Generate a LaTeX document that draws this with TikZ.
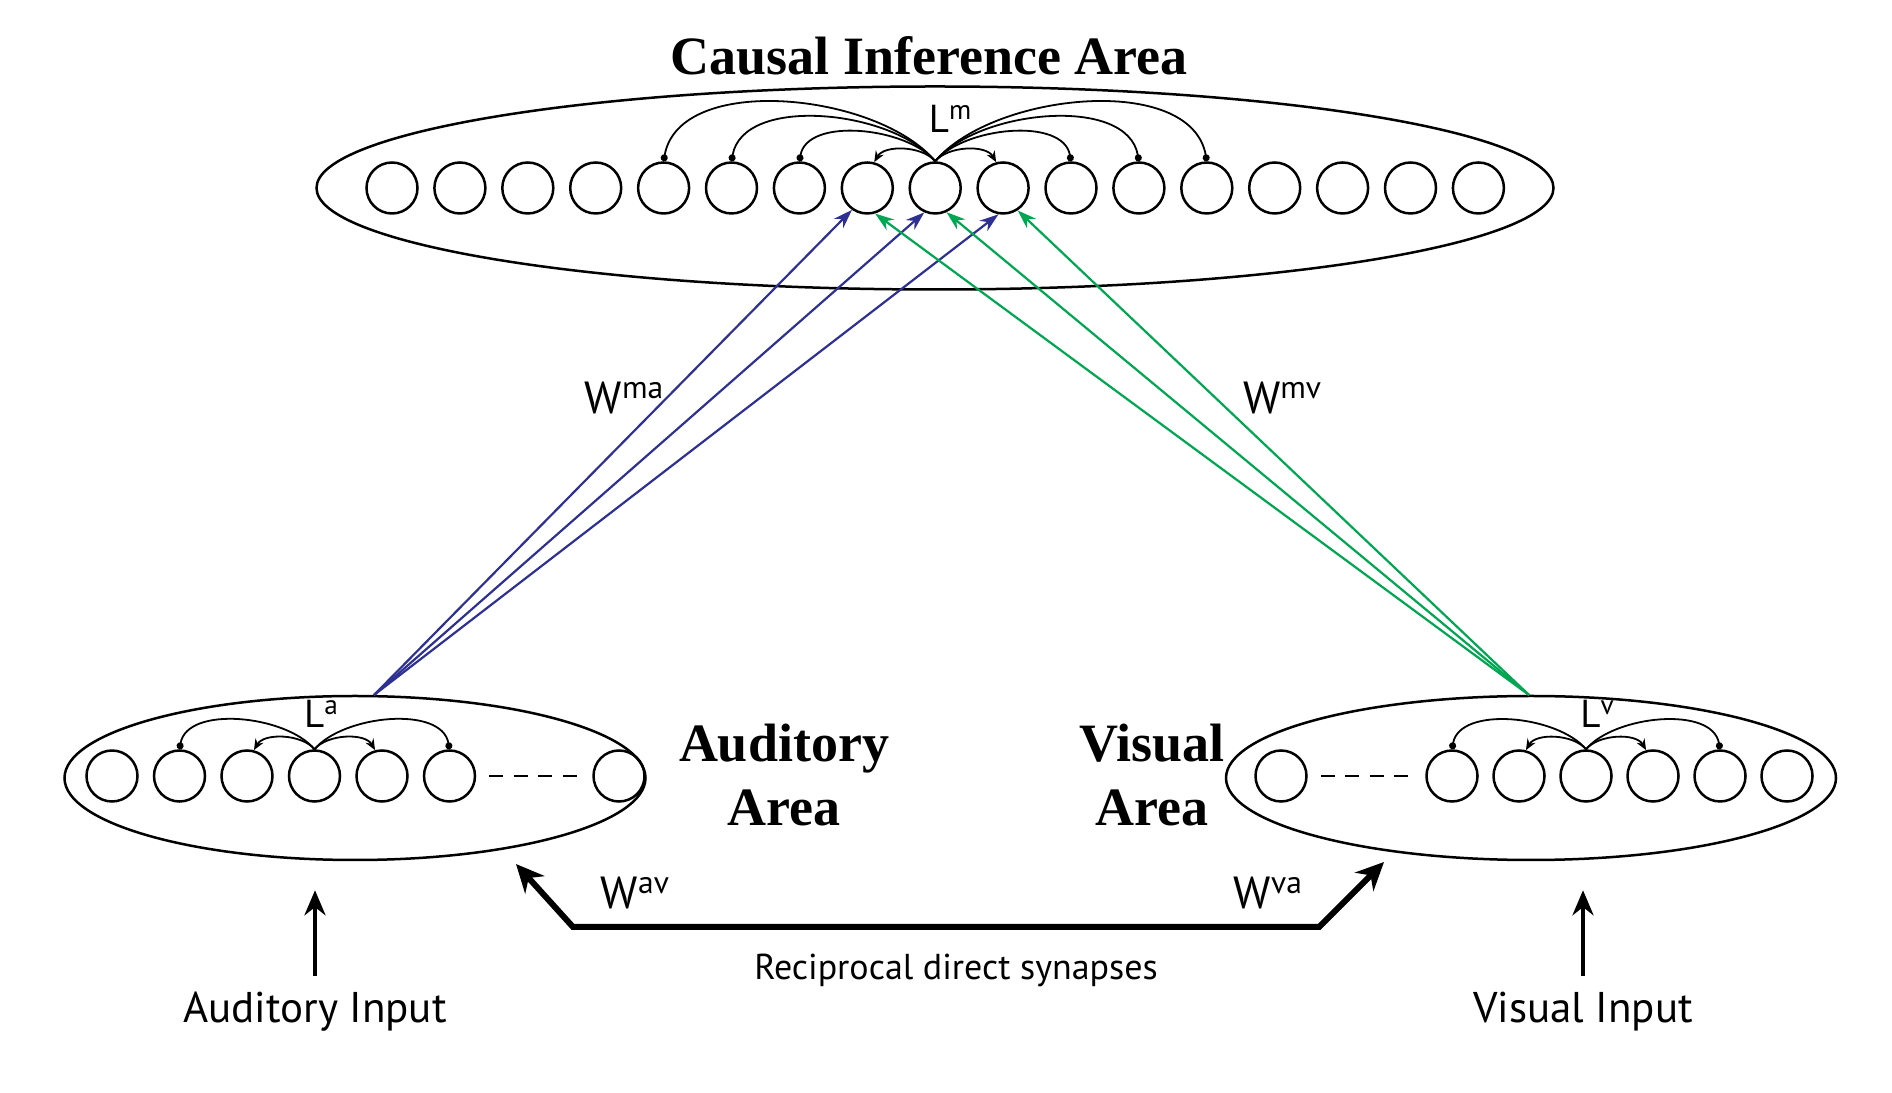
\documentclass[tikz,border=0pt]{standalone}
\usepackage{fontspec}
\setmainfont{Liberation Serif}
\setsansfont{PT Sans}
\usetikzlibrary{shapes.geometric,arrows.meta}
\definecolor{mablue}{RGB}{46,49,146}
\definecolor{mvgreen}{RGB}{0,166,81}
\newcommand\upidx[1]{\raisebox{.33em}{\scalebox{.7}{#1}}}
\tikzset{
  unit/.style={circle,draw,line width=2.5pt,minimum size=51pt,inner sep=0pt},
  area/.style={ellipse,draw,line width=2.5pt,inner sep=0pt},
  areaname/.style={font=\fontsize{54}{64}\selectfont\bfseries,align=center,inner sep=0pt},
  lname/.style={font=\sffamily\fontsize{39}{39}\selectfont,inner sep=0pt},
  wname/.style={font=\sffamily\fontsize{45}{45}\selectfont,inner sep=0pt},
  inname/.style={font=\sffamily\fontsize{43}{43}\selectfont,inner sep=0pt},
  lateral/.style={line width=1.8pt,looseness=0.85},
  excite/.style={-{Stealth[length=11pt,width=9pt]}},
  inhibit/.style={-{Circle[length=7pt]}},
  gap/.style={line width=2.5pt,dash pattern=on 14pt off 10.5pt,shorten <=13pt,shorten >=13pt},
  feed/.style={line width=2.2pt,-{Stealth[length=19pt,width=13pt]}},
  recip/.style={line width=6pt,{Stealth[length=28pt,width=26pt]}-{Stealth[length=28pt,width=26pt]}},
  sensory/.style={line width=4.5pt,-{Stealth[length=25pt,width=21pt]}}
}
\begin{document}
\begin{tikzpicture}[x=1pt,y=1pt]
      \useasboundingbox (0,0) rectangle (1892,1092);
      \node[areaname] (title) at (929,1036) {Causal Inference Area};
      \node[area,minimum width=1237pt,minimum height=203pt] (cia) at (935,904) {};
      \node[area,minimum width=581pt,minimum height=164pt] (aud) at (355,314) {};
      \node[area,minimum width=610pt,minimum height=164pt] (vis) at (1531,314) {};
      \node[areaname] (audname) at (784,317) {Auditory\\Area};
      \node[areaname] (visname) at (1152,317) {Visual\\Area};
      \path[every node/.style=unit]
        (392,904) node (m1){}
        (459.9,904) node (m2){}
        (527.8,904) node (m3){}
        (595.7,904) node (m4){}
        (663.6,904) node (m5){}
        (731.5,904) node (m6){}
        (799.4,904) node (m7){}
        (867.3,904) node (m8){}
        (935.2,904) node (m9){}
        (1003.1,904) node (m10){}
        (1071,904) node (m11){}
        (1138.9,904) node (m12){}
        (1206.8,904) node (m13){}
        (1274.7,904) node (m14){}
        (1342.6,904) node (m15){}
        (1410.5,904) node (m16){}
        (1478.4,904) node (m17){};
      \path[every node/.style=unit]
        (112,316) node (a1){}
        (179.5,316) node (a2){}
        (247,316) node (a3){}
        (314.5,316) node (a4){}
        (382,316) node (a5){}
        (449.5,316) node (a6){}
        (619,316) node (a7){};
      \path[every node/.style=unit]
        (1281,316) node (v1){}
        (1452,316) node (v2){}
        (1519,316) node (v3){}
        (1586,316) node (v4){}
        (1653,316) node (v5){}
        (1720,316) node (v6){}
        (1787,316) node (v7){};
      \draw[gap] (a6) -- (a7);
      \draw[gap] (v1) -- (v2);
      \node[lname] (lm) at (950,973) {L\upidx{m}};
      \node[lname] (la) at (321,378) {L\upidx{a}};
      \node[lname] (lv) at (1597,378) {L\upidx{v}};
      \begin{scope}[lateral]
        \draw[inhibit] (m9.north) to[out=130,in=80] (m5.north);
        \draw[inhibit] (m9.north) to[out=130,in=80] (m6.north);
        \draw[inhibit] (m9.north) to[out=130,in=80] (m7.north);
        \draw[excite] (m9.north) to[out=130,in=60] (m8.75);
        \draw[excite] (m9.north) to[out=50,in=120] (m10.105);
        \draw[inhibit] (m9.north) to[out=50,in=100] (m11.north);
        \draw[inhibit] (m9.north) to[out=50,in=100] (m12.north);
        \draw[inhibit] (m9.north) to[out=50,in=100] (m13.north);
        \draw[inhibit] (a4.north) to[out=130,in=80] (a2.north);
        \draw[excite] (a4.north) to[out=130,in=60] (a3.75);
        \draw[excite] (a4.north) to[out=50,in=120] (a5.105);
        \draw[inhibit] (a4.north) to[out=50,in=100] (a6.north);
        \draw[inhibit] (v4.north) to[out=130,in=80] (v2.north);
        \draw[excite] (v4.north) to[out=130,in=60] (v3.75);
        \draw[excite] (v4.north) to[out=50,in=120] (v5.105);
        \draw[inhibit] (v4.north) to[out=50,in=100] (v6.north);
      \end{scope}
      \coordinate (aout) at (374,397);
      \coordinate (vout) at (1529,397);
      \begin{scope}[feed,mablue]
        \draw (aout) -- (m8.-125);
        \draw (aout) -- (m9.-114);
        \draw (aout) -- (m10.-100);
      \end{scope}
      \begin{scope}[feed,mvgreen]
        \draw (vout) -- (m8.-73);
        \draw (vout) -- (m9.-65);
        \draw (vout) -- (m10.-57);
      \end{scope}
      \node[wname] (wma) at (624,694) {W\upidx{ma}};
      \node[wname] (wmv) at (1282,694) {W\upidx{mv}};
      \coordinate (avend) at (516,228);
      \coordinate (vaend) at (1384,230);
      \draw[recip] (avend) -- ++(57,-63) -- ++(746,0) -- (vaend);
      \node[wname] (wav) at (635,199) {W\upidx{av}};
      \node[wname] (wva) at (1268,199) {W\upidx{va}};
      \node[inname,font=\sffamily\fontsize{36}{36}\selectfont] (recipname) at (956,122) {Reciprocal direct synapses};
      \node[inname,anchor=base] (ain) at (315,69) {Auditory Input};
      \node[inname,anchor=base] (vin) at (1583,69) {Visual Input};
      \draw[sensory,shorten <=16pt,shorten >=29pt] (ain.north) -- (ain.north |- aud.south);
      \draw[sensory,shorten <=16pt,shorten >=29pt] (vin.north) -- (vin.north |- vis.south);
    \end{tikzpicture}
\end{document}
